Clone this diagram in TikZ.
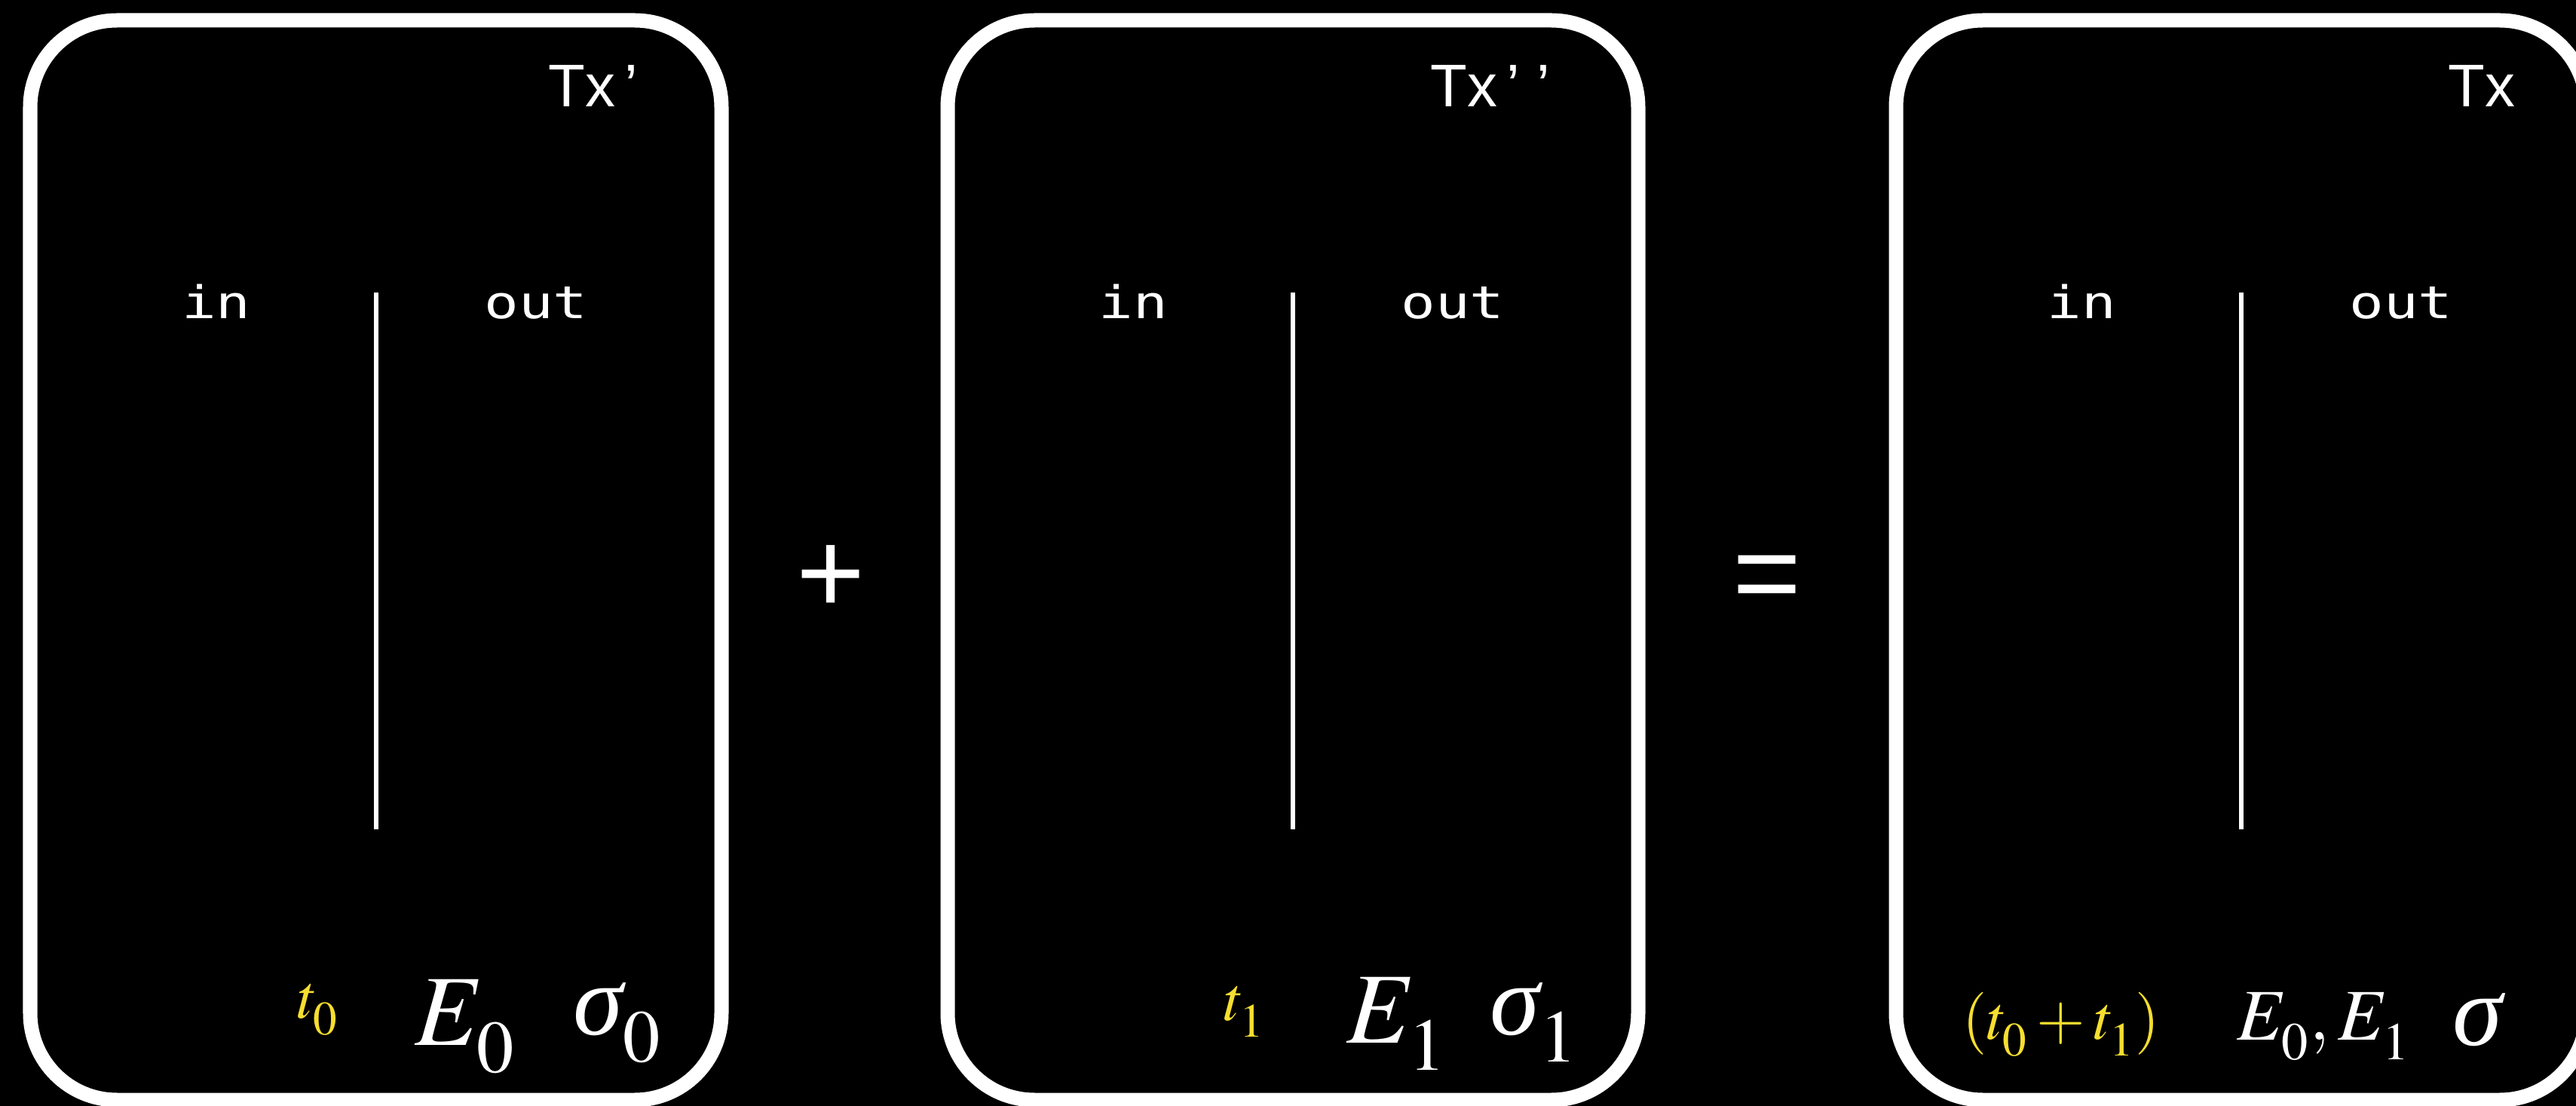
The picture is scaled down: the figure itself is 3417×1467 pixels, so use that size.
\documentclass[tikz,border=0pt]{standalone}
\usepackage{mathptmx}
\usepackage[no-math]{fontspec}
\newfontfamily\labelfont{Liberation Sans}
\newfontfamily\codefont[FakeStretch=1.27]{DejaVu Sans Mono}
\newfontfamily\greekfont{Liberation Serif}
\definecolor{tyellow}{RGB}{246,222,48}
\DeclareMathSizes{38}{38}{28}{20}
\DeclareMathSizes{27.5}{27.5}{20}{14}
\DeclareMathSizes{23.6}{23.6}{18}{13}
\newcommand\dsub[1]{_{\lower0.12em\hbox{$\scriptstyle#1$}}}
\newcommand\sig{\mbox{\greekfont\itshape σ}}

\begin{document}
\begin{tikzpicture}[x=0.01cm,y=-0.01cm,
  txbox/.style={draw=white,line width=0.19cm,rounded corners=1.15cm},
  sep/.style={draw=white,line width=0.06cm},
  io/.style={text=white,inner sep=0,anchor=base,font=\codefont\fontsize{17}{20}\selectfont},
  txname/.style={text=white,inner sep=0,anchor=base west,font=\labelfont\fontsize{22.7}{26}\selectfont},
  op/.style={text=white,inner sep=0,anchor=base,font=\labelfont\fontsize{44.4}{48}\selectfont},
  big/.style={text=white,inner sep=0,anchor=base west,font=\fontsize{38}{40}\selectfont},
  small/.style={text=tyellow,inner sep=0,anchor=base west,font=\fontsize{23.6}{26}\selectfont}]
\path[use as bounding box,fill=black] (0,0) rectangle (3417,1467);
% the three transactions
\draw[txbox] (40,27) rectangle (957,1459);
\draw[txbox] (1257,27) rectangle (2173,1459);
\draw[txbox] (2515,27) rectangle (3431,1459);
\draw[sep] (499,388) -- (499,1100);
\draw[sep] (1715,388) -- (1715,1100);
\draw[sep] (2973,388) -- (2973,1100);
\node[txname] (txa) at (727,142) {Tx\kern0.15em’};
\node[txname] (txb) at (1897,142) {Tx\kern0.15em’ ’};
\node[txname] (txc) at (3247,142) {Tx};
\node[io] (ina) at (287,423) {in}; \node[io] (outa) at (711,423) {out};
\node[io] (inb) at (1503,423) {in}; \node[io] (outb) at (1927,423) {out};
\node[io] (inc) at (2761,423) {in}; \node[io] (outc) at (3185,423) {out};
\node[small] (ta) at (394,1350) {$t\dsub{0}$};
\node[big] (ea) at (550,1386) {$E\dsub{0}$};
\node[big] (sa) at (760,1372) {$\sig\dsub{0}$};
\node[small] (tb) at (1623,1353) {$t\dsub{1}$};
\node[big] (eb) at (1786,1383) {$E\dsub{1}$};
\node[big] (sb) at (1976,1372) {$\sig\dsub{1}$};
\node[small] (tc) at (2603,1378) {$(t\dsub{0}+t\dsub{1})$};
\node[big,font=\fontsize{27.5}{30}\selectfont] (ec) at (2967,1379) {$E\dsub{0},E\dsub{1}$};
\node[big] (sc) at (3253,1386) {$\sig$};
% plus and equals
\node[op] (plus) at (1102,814) {+};
\node[op] (eq) at (2344,814) {=};
\end{tikzpicture}
\end{document}
